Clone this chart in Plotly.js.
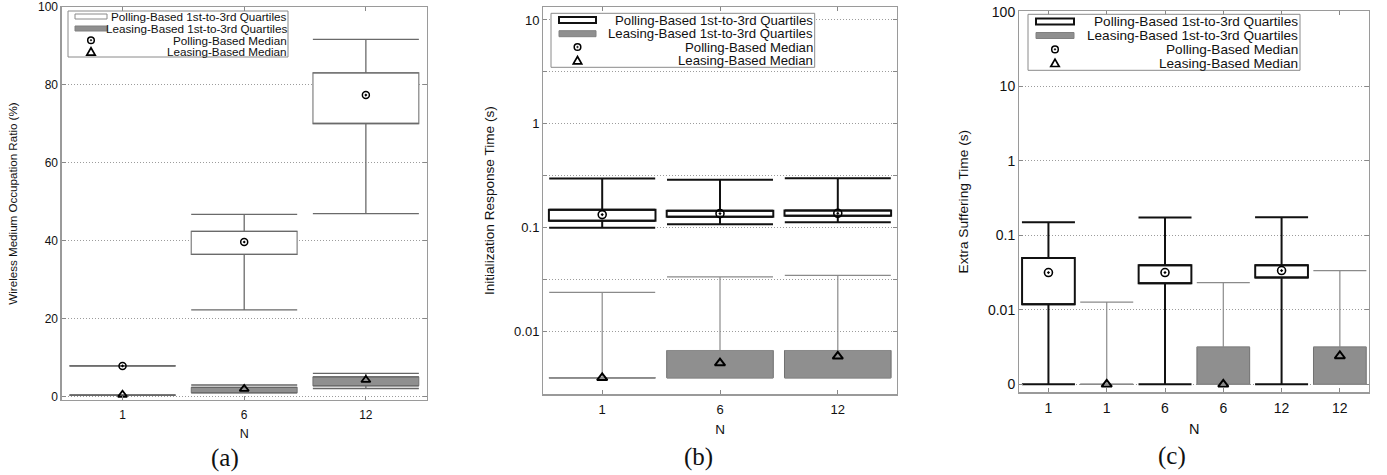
<!DOCTYPE html>
<html><head><meta charset="utf-8">
<script src="https://cdn.plot.ly/plotly-3.0.1.min.js"></script>
<style>html,body{margin:0;padding:0;background:#fff}#chart{width:1387px;height:475px}</style>
</head><body><div id="chart"></div>
<script>
// ===== DATA =====
// Panel (a): Wireless Medium Occupation Ratio (%)
const catsA = ['1', '6', '12'];
const pollA_low  = [7.9, 22.3, 47.0];
const pollA_q1   = [7.9, 36.5, 70.1];
const pollA_med  = [7.9, 39.7, 77.4];
const pollA_q3   = [7.9, 42.4, 83.1];
const pollA_high = [7.9, 46.8, 91.7];
const leasA_low  = [0.4, 1.0, 2.1];
const leasA_q1   = [0.4, 1.0, 2.8];
const leasA_med  = [0.5, 2.0, 4.3];
const leasA_q3   = [0.4, 2.4, 5.1];
const leasA_high = [0.4, 3.0, 6.0];

// Panel (b): Initialization Response Time (s)
const catsB = ['1', '6', '12'];
const pollB_low  = [0.100, 0.108, 0.113];
const pollB_q1   = [0.117, 0.128, 0.131];
const pollB_med  = [0.134, 0.137, 0.138];
const pollB_q3   = [0.149, 0.146, 0.147];
const pollB_high = [0.298, 0.290, 0.300];
const leasB_low  = [0.0036, 0.0036, 0.0036];
const leasB_q1   = [0.0036, 0.0036, 0.0036];
const leasB_med  = [0.0036, 0.0050, 0.0058];
const leasB_q3   = [0.0036, 0.0066, 0.0066];
const leasB_high = [0.0239, 0.0338, 0.0348];

// Panel (c): Extra Suffering Time (s)
const catsC = ['1', '6', '12'];
const pollC_low  = [0, 0, 0];
const pollC_q1   = [0.0119, 0.0227, 0.0271];
const pollC_med  = [0.0316, 0.0316, 0.0336];
const pollC_q3   = [0.0497, 0.0396, 0.0396];
const pollC_high = [0.150, 0.173, 0.174];
const leasC_low  = [0, 0, 0];
const leasC_q1   = [0, 0, 0];
const leasC_med  = [0, 0, 0.0024];
const leasC_q3   = [0, 0.00316, 0.00316];
const leasC_high = [0.0127, 0.0232, 0.0336];

const legendLabels = ['Polling-Based 1st-to-3rd Quartiles', 'Leasing-Based 1st-to-3rd Quartiles',
                      'Polling-Based Median', 'Leasing-Based Median'];
const yTitles = ['Wireless Medium Occupation Ratio (%)', 'Initialization Response Time (s)', 'Extra Suffering Time (s)'];
const panelLabels = ['(a)', '(b)', '(c)'];
const tickValsB = [0.01, 0.0316, 0.1, 0.316, 1, 3.16, 10];
const tickTextB = ['0.01', '', '0.1', '', '1', '', '10'];
const tickValsC = [0.001, 0.01, 0.1, 1, 10, 100];
const tickTextC = ['0', '0.01', '0.1', '1', '10', '100'];

// ===== helpers =====
const W = 1387, H = 475;
const px = x => x / W;
const py = y => 1 - y / H;
const ZERO_C = 0.001; // where "0" is drawn on panel (c)'s log axis
const zc = arr => arr.map(v => (v <= 0 ? ZERO_C : v));
const GRAYFILL = '#8f8f8f';

function boxTraces(xa, ya, xs, low, q1, med, q3, high, st) {
  const zeros = xs.map(() => 0);
  return {
    bar: {type: 'bar', x: xs, base: q1, y: q3.map((v, i) => v - q1[i]), width: st.w,
          marker: {color: st.fill, line: {color: st.line, width: st.lw}},
          xaxis: xa, yaxis: ya, hoverinfo: 'skip'},
    whiskers: [
      {type: 'scatter', mode: 'markers', x: xs, y: q3, marker: {size: 1, opacity: 0},
       error_y: {type: 'data', symmetric: false, array: high.map((v, i) => v - q3[i]), arrayminus: zeros,
                 width: st.cap, thickness: st.wlw, color: st.wc},
       xaxis: xa, yaxis: ya, hoverinfo: 'skip'},
      {type: 'scatter', mode: 'markers', x: xs, y: q1, marker: {size: 1, opacity: 0},
       error_y: {type: 'data', symmetric: false, array: zeros, arrayminus: q1.map((v, i) => v - low[i]),
                 width: st.cap, thickness: st.wlw, color: st.wc},
       xaxis: xa, yaxis: ya, hoverinfo: 'skip'}
    ],
    median: {type: 'scatter', mode: 'markers', x: xs, y: med,
             marker: {symbol: st.sym, size: st.ms, color: '#000', line: {color: '#000', width: st.mlw}},
             xaxis: xa, yaxis: ya, hoverinfo: 'skip'}
  };
}

const pollStyleA = {w: 0.87, fill: '#fff', line: '#8a8a8a', lw: 1.3, cap: 53, wlw: 1.3, wc: '#6a6a6a', sym: 'circle-open-dot', ms: 7, mlw: 1.5};
const leasStyleA = {w: 0.87, fill: GRAYFILL, line: '#707070', lw: 1, cap: 53, wlw: 1.3, wc: '#666', sym: 'triangle-up-open', ms: 8, mlw: 1.8};
const pollStyleB = {w: 0.905, fill: '#fff', line: '#111', lw: 2, cap: 53, wlw: 2, wc: '#111', sym: 'circle-open-dot', ms: 8, mlw: 1.6};
const leasStyleB = {w: 0.905, fill: GRAYFILL, line: '#707070', lw: 1, cap: 53, wlw: 1.2, wc: '#8a8a8a', sym: 'triangle-up-open', ms: 9, mlw: 2};
const pollStyleC = {w: 0.905, fill: '#fff', line: '#111', lw: 2, cap: 26.5, wlw: 2, wc: '#111', sym: 'circle-open-dot', ms: 8, mlw: 1.6};
const leasStyleC = {w: 0.905, fill: GRAYFILL, line: '#707070', lw: 1, cap: 26.5, wlw: 1.2, wc: '#8a8a8a', sym: 'triangle-up-open', ms: 9, mlw: 2};

// panel (c) category keys: polling and leasing side by side per N
const xPollC = catsC.map(c => 'P' + c);
const xLeasC = catsC.map(c => 'L' + c);
const orderC = catsC.flatMap(c => ['P' + c, 'L' + c]);
const textC = catsC.flatMap(c => [c, c]);

const pA = boxTraces('x', 'y', catsA, pollA_low, pollA_q1, pollA_med, pollA_q3, pollA_high, pollStyleA);
const lA = boxTraces('x', 'y', catsA, leasA_low, leasA_q1, leasA_med, leasA_q3, leasA_high, leasStyleA);
const pB = boxTraces('x2', 'y2', catsB, pollB_low, pollB_q1, pollB_med, pollB_q3, pollB_high, pollStyleB);
const lB = boxTraces('x2', 'y2', catsB, leasB_low, leasB_q1, leasB_med, leasB_q3, leasB_high, leasStyleB);
const pC = boxTraces('x3', 'y3', xPollC, zc(pollC_low), zc(pollC_q1), zc(pollC_med), zc(pollC_q3), pollC_high, pollStyleC);
const lC = boxTraces('x3', 'y3', xLeasC, zc(leasC_low), zc(leasC_q1), zc(leasC_med), zc(leasC_q3), leasC_high, leasStyleC);

const data = [];
[pA, lA, pB, lB, pC, lC].forEach(t => data.push(t.bar));
[pA, lA, pB, lB, pC, lC].forEach(t => data.push(...t.whiskers));
[pA, lA, pB, lB, pC, lC].forEach(t => data.push(t.median));

// ===== layout =====
const FONT = 'Liberation Sans, Arial, sans-serif';
const domA = {x: [61.7, 426.7], y: [7, 400]};
const domB = {x: [543.3, 896.7], y: [7, 394.3]};
const domC = {x: [1019.3, 1369], y: [11, 392.3]};
const dx = d => [px(d.x[0]), px(d.x[1])];
const dy = d => [py(d.y[1]), py(d.y[0])];
const GRIDDASH = '1px,2px';

function xAxis(dom, fs, extra) {
  return Object.assign({domain: dx(dom), type: 'category', showgrid: false, zeroline: false,
    showline: true, mirror: 'ticks', linecolor: '#9a9a9a', linewidth: 1.3,
    ticks: 'inside', ticklen: 4, tickcolor: '#888', ticklabelstandoff: 3,
    tickfont: {family: FONT, size: fs, color: '#111'},
    title: {text: 'N', font: {family: FONT, size: fs + 0.5, color: '#111'}, standoff: 8}, fixedrange: true}, extra);
}
function yAxis(dom, fs, tfs, title, standoff, extra) {
  return Object.assign({domain: dy(dom), showgrid: true, gridcolor: '#9c9c9c', griddash: GRIDDASH, gridwidth: 1,
    zeroline: false, showline: true, mirror: 'ticks', linecolor: '#9a9a9a', linewidth: 1.3,
    ticks: 'inside', ticklen: 4, tickcolor: '#888', tickfont: {family: FONT, size: fs, color: '#111'},
    title: {text: title, font: {family: FONT, size: tfs, color: '#111'}, standoff: standoff}, fixedrange: true}, extra);
}

const shapes = [];
const annotations = [];
function addLegend(cfg) {
  shapes.push({type: 'rect', xref: 'paper', yref: 'paper', x0: px(cfg.box[0]), x1: px(cfg.box[2]),
               y0: py(cfg.box[3]), y1: py(cfg.box[1]), fillcolor: '#fff', line: {color: '#8a8a8a', width: 1}});
  const r = cfg.rows;
  shapes.push({type: 'rect', xref: 'paper', yref: 'paper', x0: px(cfg.rectX[0]), x1: px(cfg.rectX[1]),
               y0: py(r[0] + cfg.rectH / 2), y1: py(r[0] - cfg.rectH / 2), fillcolor: '#fff',
               line: {color: cfg.pollLine, width: cfg.pollLW}});
  shapes.push({type: 'rect', xref: 'paper', yref: 'paper', x0: px(cfg.rectX[0]), x1: px(cfg.rectX[1]),
               y0: py(r[1] + cfg.rectH / 2), y1: py(r[1] - cfg.rectH / 2), fillcolor: GRAYFILL,
               line: {color: '#808080', width: 1}});
  shapes.push({type: 'circle', xref: 'paper', yref: 'paper', xsizemode: 'pixel', ysizemode: 'pixel',
               xanchor: px(cfg.markX), yanchor: py(r[2]), x0: -3.3, x1: 3.3, y0: -3.3, y1: 3.3,
               line: {color: '#000', width: 1.5}});
  shapes.push({type: 'circle', xref: 'paper', yref: 'paper', xsizemode: 'pixel', ysizemode: 'pixel',
               xanchor: px(cfg.markX), yanchor: py(r[2]), x0: -0.8, x1: 0.8, y0: -0.8, y1: 0.8,
               fillcolor: '#000', line: {color: '#000', width: 0.5}});
  shapes.push({type: 'path', xref: 'paper', yref: 'paper', xsizemode: 'pixel', ysizemode: 'pixel',
               xanchor: px(cfg.markX), yanchor: py(r[3]), path: 'M -4.2 -3.2 L 4.2 -3.2 L 0 4.2 Z',
               line: {color: '#000', width: 1.7}});
  legendLabels.forEach((t, i) => annotations.push({text: t, xref: 'paper', yref: 'paper', x: px(cfg.textRight),
    y: py(r[i]), xanchor: 'right', yanchor: 'middle', showarrow: false, borderpad: 0,
    font: {family: FONT, size: cfg.fs, color: '#111'}}));
}
addLegend({box: [68, 11, 288, 57], rows: [16.5, 28.5, 40.2, 52], rectX: [75, 107], rectH: 5, markX: 91,
           textRight: 288, fs: 11.7, pollLine: '#8a8a8a', pollLW: 1});
addLegend({box: [551, 13.3, 814.7, 67.3], rows: [20, 33.7, 47, 60.7], rectX: [559, 596], rectH: 6, markX: 577.5,
           textRight: 814, fs: 13.2, pollLine: '#111', pollLW: 2});
addLegend({box: [1028, 14.3, 1300, 70.3], rows: [21.5, 35.5, 49.4, 63.3], rectX: [1036, 1074], rectH: 6, markX: 1055,
           textRight: 1299, fs: 13.6, pollLine: '#111', pollLW: 2});

const labelPos = [[225, 458], [698, 457], [1172, 456]];
panelLabels.forEach((t, i) => annotations.push({text: t, xref: 'paper', yref: 'paper', x: px(labelPos[i][0]),
  y: py(labelPos[i][1]), xanchor: 'center', yanchor: 'middle', showarrow: false,
  font: {family: 'Liberation Serif, DejaVu Serif, serif', size: 25, color: '#111'}}));

const layout = {
  width: W, height: H, margin: {l: 0, r: 0, t: 0, b: 0}, paper_bgcolor: '#fff', plot_bgcolor: '#fff',
  showlegend: false, barmode: 'overlay', font: {family: FONT, color: '#111'},
  xaxis: xAxis(domA, 12, {anchor: 'y', categoryorder: 'array', categoryarray: catsA, range: [-0.5, 2.5]}),
  yaxis: yAxis(domA, 12, 11.6, yTitles[0], 18, {anchor: 'x', range: [-0.85, 100], dtick: 20, tick0: 0}),
  xaxis2: xAxis(domB, 13, {anchor: 'y2', categoryorder: 'array', categoryarray: catsB, range: [-0.5, 2.5]}),
  yaxis2: yAxis(domB, 13, 13.6, yTitles[1], 16, {anchor: 'x2', type: 'log', range: [-2.602, 1.125],
    tickmode: 'array', tickvals: tickValsB, ticktext: tickTextB}),
  xaxis3: xAxis(domC, 14, {anchor: 'y3', categoryorder: 'array', categoryarray: orderC, range: [-0.5, 5.5],
    tickmode: 'array', tickvals: orderC, ticktext: textC}),
  yaxis3: yAxis(domC, 14, 13.7, yTitles[2], 16, {anchor: 'x3', type: 'log', range: [-3.107, 2.009],
    tickmode: 'array', tickvals: tickValsC, ticktext: tickTextC}),
  shapes: shapes, annotations: annotations
};

Plotly.newPlot('chart', data, layout, {displayModeBar: false, staticPlot: true});
</script></body></html>
